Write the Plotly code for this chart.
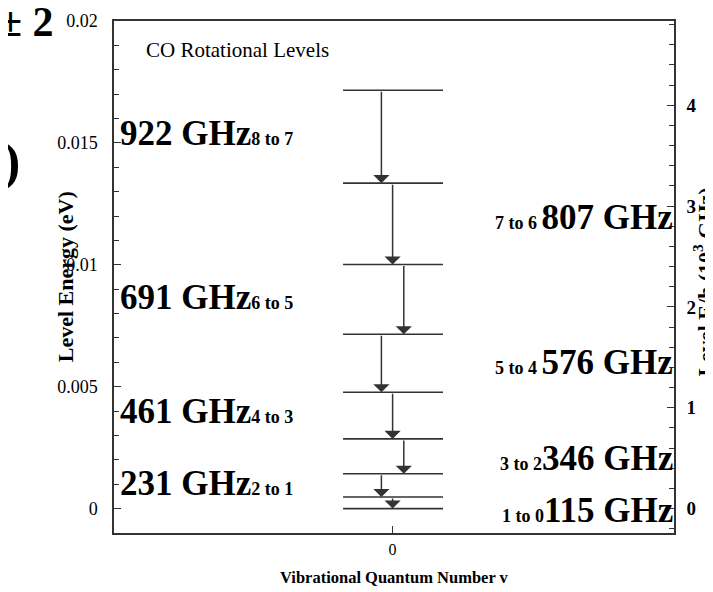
import plotly.graph_objects as go

# ---------------- data ----------------
rot_levels_J = [0, 1, 2, 3, 4, 5, 6, 7, 8]
level_energy_ev = [0.0, 0.000477, 0.00143, 0.00286, 0.00477, 0.00715, 0.01001, 0.01335, 0.01716]
transitions = ["8 to 7", "7 to 6", "6 to 5", "5 to 4", "4 to 3", "3 to 2", "2 to 1", "1 to 0"]
trans_upper = [8, 7, 6, 5, 4, 3, 2, 1]
trans_lower = [7, 6, 5, 4, 3, 2, 1, 0]
trans_freq_ghz = [922, 807, 691, 576, 461, 346, 231, 115]
trans_side = ["left", "right", "left", "right", "left", "right", "left", "right"]
x_tick_vals = [0]
x_tick_text = ["0"]
EV_TO_1E3GHZ = 241.799  # 1 eV / h in 10^3 GHz

# ---------------- layout constants ----------------
FONT = "Liberation Serif"
X_RANGE = [-0.995, 1.005]
Y_RANGE = [-0.001, 0.0200001]
LEVEL_X0, LEVEL_X1 = -0.177, 0.18
ARROW_X = [-0.04, 0.0, 0.04, -0.04, 0.0, 0.04, -0.04, 0.0]
LABEL_YSHIFT = [3, 6, 2, 1, 4, -2, 2, -8]   # pixel nudges of the labels
PAGE_OFFSET = 8  # browser body margin

fig = go.Figure()

# energy levels
lx, ly = [], []
for e in level_energy_ev:
    lx += [LEVEL_X0, LEVEL_X1, None]
    ly += [e, e, None]
fig.add_trace(go.Scatter(x=lx, y=ly, mode="lines", line=dict(color="#333333", width=1.6),
                         hoverinfo="skip", showlegend=False))
# dummy trace on the right axis
fig.add_trace(go.Scatter(x=[None], y=[None], yaxis="y2", showlegend=False, hoverinfo="skip"))

# transition arrows and labels
for i, (u, l) in enumerate(zip(trans_upper, trans_lower)):
    eu, el = level_energy_ev[u], level_energy_ev[l]
    fig.add_annotation(x=ARROW_X[i], y=el, ax=ARROW_X[i], ay=eu, xref="x", yref="y",
                       axref="x", ayref="y", text="", showarrow=True, arrowhead=1,
                       arrowsize=1.8, arrowwidth=1.5, arrowcolor="#333333", standoff=0,
                       startstandoff=0)
    mid = (eu + el) / 2
    big = f"<span style='font-size:35px'>{trans_freq_ghz[i]} GHz</span>"
    if trans_side[i] == "left":
        small = f"<span style='font-size:18px'>{transitions[i]}</span>"
        txt = f"<b>{big}{small}</b>"
        fig.add_annotation(x=0.008, xref="paper", y=mid, yref="y", text=txt, showarrow=False,
                           xanchor="left", yanchor="middle", yshift=LABEL_YSHIFT[i],
                           font=dict(family=FONT, color="black", size=35))
    else:
        sep = " " if transitions[i] in ("7 to 6", "5 to 4") else ""
        small = f"<span style='font-size:18px'>{transitions[i]}{sep}</span>"
        txt = f"<b>{small}{big}</b>"
        fig.add_annotation(x=1.002, xref="paper", y=mid, yref="y", text=txt, showarrow=False,
                           xanchor="right", yanchor="middle", yshift=LABEL_YSHIFT[i],
                           font=dict(family=FONT, color="black", size=35))

# inner title
fig.add_annotation(x=0.054, y=0.943, xref="paper", yref="paper", text="CO Rotational Levels",
                   showarrow=False, xanchor="left", yanchor="middle",
                   font=dict(family=FONT, size=21, color="black"))

# axis titles
fig.add_annotation(x=-0.087, y=0.5, xref="paper", yref="paper", text="<b>Level Energy (eV)</b>",
                   textangle=-90, showarrow=False, xanchor="center", yanchor="middle",
                   font=dict(family=FONT, size=22, color="black"))
fig.add_annotation(x=1.024, y=0.49, xref="paper", yref="paper",
                   text="<b>Level E/h (10<sup>3</sup> GHz)</b>",
                   textangle=-90, showarrow=False, xanchor="left", yanchor="middle",
                   font=dict(family=FONT, size=22, color="black"))
fig.add_annotation(x=0.5, y=-0.086, xref="paper", yref="paper",
                   text="<b>Vibrational Quantum Number v</b>", showarrow=False,
                   xanchor="center", yanchor="middle",
                   font=dict(family=FONT, size=16.5, color="black"))

# cut-off slide text outside the frame
fig.add_annotation(x=-0.104, y=0.999, xref="paper", yref="paper", text="<b>± 2</b>",
                   showarrow=False, xanchor="right", yanchor="middle",
                   font=dict(family=FONT, size=42, color="black"))
fig.add_annotation(x=-0.165, y=0.717, xref="paper", yref="paper", text="<b>)</b>",
                   showarrow=False, xanchor="right", yanchor="middle", yshift=4,
                   font=dict(family=FONT, size=52, color="black"))

axis_common = dict(showgrid=False, zeroline=False, showline=True, linecolor="#333333",
                   linewidth=1.5, ticks="inside", ticklen=7, tickwidth=1.2, tickcolor="#333333",
                   automargin=False)

fig.update_layout(
    width=713 - PAGE_OFFSET, height=592 - PAGE_OFFSET,
    margin=dict(l=114 - PAGE_OFFSET, r=39, t=21 - PAGE_OFFSET, b=59, autoexpand=False),
    paper_bgcolor="white", plot_bgcolor="white",
    showlegend=False,
    xaxis=dict(range=X_RANGE, tickvals=x_tick_vals, ticktext=x_tick_text, mirror=True,
               ticklabelstandoff=1, tickfont=dict(family=FONT, size=16, color="black"),
               **axis_common),
    yaxis=dict(range=Y_RANGE, dtick=0.005, tick0=0, mirror=True,
               ticklabelstandoff=11, tickfont=dict(family=FONT, size=18, color="black"),
               minor=dict(dtick=0.001, ticks="inside", ticklen=5, tickcolor="#333333"),
               **axis_common),
    yaxis2=dict(range=[Y_RANGE[0] * EV_TO_1E3GHZ, Y_RANGE[1] * EV_TO_1E3GHZ], overlaying="y",
                side="right", dtick=1, tick0=0, ticklabelstandoff=7,
                tickfont=dict(family=FONT, size=19, color="black", weight="bold"),
                minor=dict(dtick=0.2, ticks="inside", ticklen=5, tickcolor="#333333"),
                **axis_common),
)

fig.write_html("out.html")
